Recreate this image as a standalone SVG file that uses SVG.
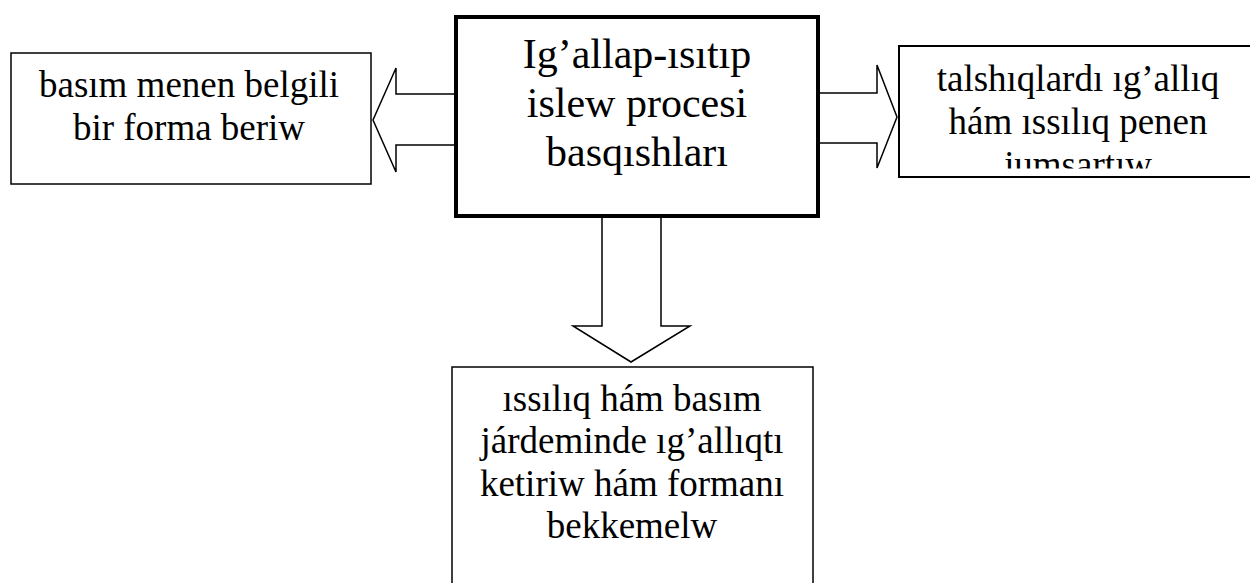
<svg xmlns="http://www.w3.org/2000/svg" width="1250" height="583" viewBox="0 0 1250 583">
<style>
.box{fill:#fff;stroke:#000;stroke-width:1.5}
.boxr{fill:#fff;stroke:#000;stroke-width:2}
.main{fill:#fff;stroke:#000;stroke-width:4}
.arr{fill:#fff;stroke:#000;stroke-width:1.5;stroke-linejoin:miter}
text{font-family:"Liberation Serif","Times New Roman",serif;fill:#000;text-anchor:middle}
.t37{font-size:37px}
.t42{font-size:42px}
</style>
<defs>
<clipPath id="clipR"><rect x="899" y="46" width="360" height="122.5"/></clipPath>
</defs>
<g id="connectors">
<path class="arr" d="M456,94 L396,94 L396,68 L373,120 L396,172 L396,145 L456,145"/>
<path class="arr" d="M818,93 L877,93 L877,65 L897,117 L877,168 L877,143 L818,143"/>
<path class="arr" d="M602,216 L602,326 L573,326 L631,362 L690,326 L661,326 L661,216"/>
</g>
<g id="node-main">
<rect class="main" x="456" y="17" width="362" height="199"/>
<text class="t42" x="637" y="68">Ig’allap-ısıtıp</text>
<text class="t42" x="637" y="117">islew procesi</text>
<text class="t42" x="637" y="166">basqıshları</text>
</g>
<g id="node-left">
<rect class="box" x="11" y="53" width="360" height="131"/>
<text class="t37" x="189" y="97">basım menen belgili</text>
<text class="t37" x="189" y="140">bir forma beriw</text>
</g>
<g id="node-right">
<rect class="boxr" x="899" y="46" width="360" height="131"/>
<g clip-path="url(#clipR)">
<text class="t37" x="1078" y="91">talshıqlardı ıg’allıq</text>
<text class="t37" x="1078" y="134">hám ıssılıq penen</text>
<text class="t37" x="1078" y="177">jumsartıw</text>
</g>
</g>
<g id="node-bottom">
<rect class="box" x="452" y="367" width="361" height="240"/>
<text class="t37" x="632" y="411">ıssılıq hám basım</text>
<text class="t37" x="632" y="453">járdeminde ıg’allıqtı</text>
<text class="t37" x="632" y="496">ketiriw hám formanı</text>
<text class="t37" x="632" y="538">bekkemelw</text>
</g>
</svg>
